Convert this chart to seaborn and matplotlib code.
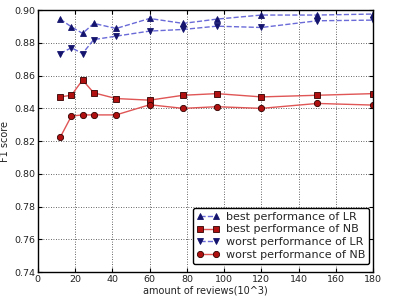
import matplotlib
matplotlib.use("Agg")
import matplotlib.pyplot as plt
import seaborn as sns
import pandas as pd

# amount of reviews (10^3)
reviews = [12, 18, 24, 30, 42, 60, 78, 96, 120, 150, 180]

best_lr = [0.8945, 0.8898, 0.8858, 0.8919, 0.8888, 0.8949, 0.8919, 0.8945, 0.8970, 0.8970, 0.8976]
best_nb = [0.8470, 0.8480, 0.8573, 0.8495, 0.8460, 0.8450, 0.8480, 0.8490, 0.8470, 0.8480, 0.8490]
worst_lr = [0.8735, 0.8770, 0.8735, 0.8820, 0.8841, 0.8872, 0.8882, 0.8902, 0.8894, 0.8935, 0.8939]
worst_nb = [0.8223, 0.8353, 0.8360, 0.8360, 0.8360, 0.8422, 0.8400, 0.8410, 0.8400, 0.8430, 0.8420]

sns.set_style("ticks")
plt.rcParams["font.family"] = ["DejaVu Sans"]

fig = plt.figure(figsize=(4.16, 2.98), dpi=100)
ax = fig.add_axes([0.091, 0.087, 0.806, 0.879])

series = [
    ("best performance of LR", best_lr, "^", "#6a6ad8", "#14146e", (4, 3)),
    ("best performance of NB", best_nb, "s", "#e05555", "#b01010", ""),
    ("worst performance of LR", worst_lr, "v", "#6a6ad8", "#14146e", (4, 3)),
    ("worst performance of NB", worst_nb, "o", "#e05555", "#b01010", ""),
]

for label, vals, marker, lc, mc, dash in series:
    df = pd.DataFrame({"reviews": reviews, "f1": vals})
    sns.lineplot(data=df, x="reviews", y="f1", ax=ax, color=lc, lw=1.0,
                 marker=marker, markersize=4.5, markerfacecolor=mc,
                 markeredgecolor="#300000" if mc == "#b01010" else mc,
                 markeredgewidth=0.6, label=label,
                 dashes=dash if dash else False, linestyle="--" if dash else "-")

ax.set_xlim(0, 180)
ax.set_ylim(0.74, 0.90)
ax.set_xticks(range(0, 181, 20))
ax.set_yticks([0.74 + 0.02 * i for i in range(9)])
ax.set_yticklabels([f"{0.74 + 0.02 * i:.2f}" for i in range(9)])
ax.grid(True, color="#333333", linestyle=(0, (1, 2)), linewidth=0.6)
ax.tick_params(direction="in", labelsize=6.8, length=3, top=True, right=True,
               colors="black", labelcolor="#222222", pad=2)
for sp in ax.spines.values():
    sp.set_color("black")
    sp.set_linewidth(1.0)

ax.set_xlabel("amount of reviews(10^3)", fontsize=7, labelpad=1, color="#222222")
ax.set_ylabel("F1 score", fontsize=7, labelpad=3, color="#222222")

leg = ax.legend(loc="lower right", fontsize=8, frameon=True, fancybox=True,
                numpoints=2, handlelength=2.0, borderpad=0.35, labelspacing=0.25,
                handletextpad=0.6, bbox_to_anchor=(1.005, 0.01))
leg.get_frame().set_edgecolor("black")
leg.get_frame().set_alpha(1.0)

fig.savefig("out.png", dpi=100)
